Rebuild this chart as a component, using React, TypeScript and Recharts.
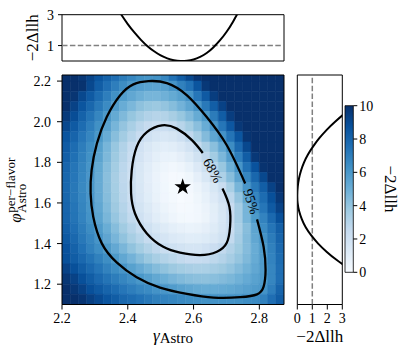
import React from "react";
import {
  ComposedChart,
  Scatter,
  XAxis,
  YAxis,
  ReferenceArea,
  ReferenceLine,
  ReferenceDot,
  Symbols,
} from "recharts";

const FONT = '"Liberation Serif", "DejaVu Serif", serif';
const MINUS = "\u2212";

// cell edges of the 2D likelihood scan (gamma left->right, phi top->bottom)
const gammaEdges = [2.2, 2.225, 2.25, 2.275, 2.3, 2.325, 2.35, 2.375, 2.4, 2.425, 2.45, 2.475, 2.5, 2.525, 2.55, 2.575, 2.6, 2.625, 2.65, 2.675, 2.7, 2.725, 2.75, 2.775, 2.8, 2.825, 2.85, 2.875];
const phiEdges = [2.25, 2.2, 2.15, 2.1, 2.05, 2.0, 1.95, 1.9, 1.85, 1.8, 1.75, 1.7, 1.65, 1.6, 1.55, 1.5, 1.45, 1.4, 1.35, 1.3, 1.25, 1.2, 1.15, 1.1];

// -2 delta llh per cell, one row per phi band (top row first)
const llhGrid = [
  [10, 10, 9.7, 9.2, 8.6, 8.1, 7.6, 7.1, 6.7, 6.3, 6.15, 6.3, 6.7, 7.5, 8.3, 9.1, 9.8, 10, 10, 10, 10, 10, 10, 10, 10, 10, 10],
  [10, 10, 9.9, 9.1, 8.3, 7.6, 7.0, 6.45, 5.95, 5.7, 5.55, 5.5, 5.65, 6.1, 6.9, 7.5, 8.6, 9.7, 10, 10, 10, 10, 10, 10, 10, 10, 10],
  [10, 9.8, 9.1, 8.4, 7.7, 7.0, 6.3, 5.75, 5.3, 4.95, 4.7, 4.7, 4.9, 5.2, 5.6, 6.2, 7.3, 8.4, 9.5, 10, 10, 10, 10, 10, 10, 10, 10],
  [10, 9.3, 8.6, 7.9, 7.2, 6.5, 5.8, 5.1, 4.6, 4.15, 3.9, 3.8, 4.0, 4.35, 4.8, 5.4, 6.1, 7.2, 8.25, 9.3, 10, 10, 10, 10, 10, 10, 10],
  [9.6, 8.9, 8.1, 7.4, 6.7, 5.95, 5.2, 4.5, 3.95, 3.5, 3.15, 3.0, 3.1, 3.45, 3.9, 4.45, 5.15, 5.9, 7.1, 8.3, 9.5, 10, 10, 10, 10, 10, 10],
  [9.1, 8.4, 7.7, 7.0, 6.3, 5.55, 4.7, 4.0, 3.4, 2.85, 2.5, 2.25, 2.25, 2.5, 2.95, 3.55, 4.25, 5.1, 6.05, 7.3, 8.5, 9.7, 10, 10, 10, 10, 10],
  [8.6, 8.0, 7.3, 6.7, 6.0, 5.1, 4.3, 3.6, 2.95, 2.4, 2.0, 1.7, 1.55, 1.7, 2.1, 2.7, 3.45, 4.4, 5.4, 6.2, 7.4, 8.6, 9.8, 10, 10, 10, 10],
  [8.35, 7.7, 7.05, 6.4, 5.6, 4.7, 3.9, 3.15, 2.5, 1.95, 1.5, 1.2, 1.0, 1.1, 1.4, 1.9, 2.55, 3.35, 4.25, 5.25, 6.45, 7.8, 9.1, 10, 10, 10, 10],
  [8.2, 7.55, 6.9, 6.25, 5.45, 4.55, 3.75, 3.0, 2.35, 1.77, 1.3, 0.95, 0.7, 0.66, 0.92, 1.36, 1.96, 2.7, 3.6, 4.6, 5.7, 7.0, 8.3, 9.7, 10, 10, 10],
  [7.95, 7.35, 6.75, 6.1, 5.2, 4.35, 3.55, 2.8, 2.15, 1.57, 1.09, 0.71, 0.44, 0.3, 0.45, 0.82, 1.37, 2.07, 2.9, 3.87, 4.97, 6.1, 7.5, 8.7, 9.9, 10, 10],
  [7.9, 7.3, 6.65, 6.05, 5.12, 4.25, 3.45, 2.73, 2.07, 1.5, 1.0, 0.6, 0.3, 0.12, 0.13, 0.42, 0.91, 1.55, 2.32, 3.24, 4.28, 5.43, 6.7, 7.9, 9.1, 10, 10],
  [7.85, 7.25, 6.6, 6.0, 5.12, 4.27, 3.49, 2.78, 2.13, 1.56, 1.07, 0.65, 0.33, 0.11, 0.02, 0.2, 0.55, 1.0, 1.6, 2.35, 3.4, 4.7, 6.05, 7.2, 8.25, 9.3, 10],
  [7.9, 7.25, 6.65, 6.05, 5.16, 4.33, 3.55, 2.84, 2.2, 1.63, 1.13, 0.71, 0.37, 0.14, 0.02, 0.12, 0.4, 0.8, 1.3, 1.95, 2.8, 4.0, 5.3, 6.7, 7.7, 8.8, 9.7],
  [7.95, 7.35, 6.75, 6.1, 5.3, 4.48, 3.73, 3.03, 2.4, 1.83, 1.33, 0.9, 0.55, 0.29, 0.12, 0.13, 0.3, 0.6, 1.05, 1.65, 2.4, 3.5, 4.7, 6.25, 7.3, 8.4, 9.3],
  [8.0, 7.4, 6.8, 6.2, 5.45, 4.65, 3.92, 3.23, 2.61, 2.04, 1.55, 1.11, 0.75, 0.47, 0.27, 0.2, 0.3, 0.57, 1.0, 1.6, 2.4, 3.5, 4.7, 5.9, 6.8, 7.8, 8.8],
  [8.2, 7.6, 7.05, 6.45, 5.8, 5.05, 4.33, 3.67, 3.06, 2.52, 2.02, 1.6, 1.24, 0.95, 0.75, 0.65, 0.72, 0.92, 1.25, 1.72, 2.35, 3.3, 4.3, 5.4, 6.5, 7.35, 8.2],
  [8.45, 7.85, 7.25, 6.7, 6.1, 5.38, 4.69, 4.06, 3.48, 2.96, 2.48, 2.07, 1.72, 1.43, 1.23, 1.1, 1.13, 1.28, 1.56, 1.96, 2.6, 3.5, 4.4, 5.3, 6.2, 7.1, 8.0],
  [8.7, 8.1, 7.5, 6.9, 6.4, 5.9, 5.25, 4.64, 4.07, 3.56, 3.1, 2.7, 2.35, 2.07, 1.85, 1.72, 1.72, 1.92, 2.23, 2.63, 3.13, 3.71, 4.37, 5.1, 5.9, 6.9, 7.8],
  [8.8, 8.3, 7.85, 7.4, 6.9, 6.4, 5.9, 5.3, 4.8, 4.3, 3.85, 3.45, 3.1, 2.83, 2.6, 2.42, 2.4, 2.52, 2.75, 3.07, 3.5, 3.97, 4.5, 5.15, 5.85, 6.8, 7.7],
  [9.3, 8.8, 8.3, 7.8, 7.35, 6.85, 6.45, 6.1, 5.6, 5.16, 4.75, 4.38, 4.06, 3.78, 3.56, 3.42, 3.3, 3.33, 3.5, 3.73, 4.03, 4.4, 4.83, 5.31, 5.85, 6.7, 7.6],
  [9.75, 9.3, 8.8, 8.3, 7.8, 7.4, 7.05, 6.7, 6.35, 6.0, 5.64, 5.28, 4.97, 4.69, 4.47, 4.3, 4.18, 4.15, 4.25, 4.4, 4.62, 4.88, 5.19, 5.55, 5.94, 6.7, 7.6],
  [10, 9.7, 9.3, 8.8, 8.4, 8.0, 7.7, 7.3, 7.0, 6.7, 6.5, 6.2, 6.05, 5.8, 5.55, 5.36, 5.2, 5.11, 5.11, 5.18, 5.29, 5.44, 5.62, 5.83, 6.2, 7.0, 8.0],
  [10, 10, 9.8, 9.4, 9.0, 8.6, 8.3, 7.9, 7.7, 7.45, 7.2, 6.95, 6.8, 6.7, 6.55, 6.45, 6.35, 6.25, 6.2, 6.2, 6.2, 6.25, 6.4, 6.5, 6.9, 7.6, 8.3],
];

// 95% contour (starts below its label, runs clockwise)
const outerGamma = [2.793, 2.813, 2.819, 2.813, 2.793, 2.742, 2.661, 2.58, 2.498, 2.427, 2.367, 2.321, 2.295, 2.287, 2.29, 2.306, 2.336, 2.377, 2.417, 2.463, 2.519, 2.58, 2.64, 2.701, 2.757];
const outerPhi = [1.519, 1.384, 1.27, 1.188, 1.15, 1.136, 1.134, 1.152, 1.183, 1.234, 1.306, 1.401, 1.532, 1.647, 1.761, 1.892, 2.023, 2.13, 2.184, 2.2, 2.19, 2.13, 2.023, 1.884, 1.696];

// 68% contour
const innerGamma = [2.688, 2.709, 2.711, 2.701, 2.671, 2.62, 2.559, 2.508, 2.458, 2.422, 2.41, 2.412, 2.427, 2.458, 2.504, 2.549, 2.595, 2.628];
const innerPhi = [1.671, 1.581, 1.483, 1.404, 1.36, 1.343, 1.355, 1.384, 1.45, 1.548, 1.647, 1.761, 1.876, 1.949, 1.982, 1.966, 1.909, 1.846];

const bestGamma = 2.567;
const bestPhi = 1.679;

// 1D profile in gamma (top panel)
const gammaScan = [2.37, 2.38, 2.4, 2.42, 2.44, 2.46, 2.48, 2.5, 2.52, 2.54, 2.56, 2.58, 2.6, 2.62, 2.64, 2.66, 2.68, 2.7, 2.72, 2.74, 2.75];
const gammaScanLlh = [3.35, 3.01, 2.39, 1.85, 1.37, 0.96, 0.63, 0.36, 0.17, 0.05, 0.0, 0.02, 0.1, 0.27, 0.52, 0.88, 1.33, 1.88, 2.55, 3.32, 3.7];

// 1D profile in phi (right panel)
const phiScan = [2.06, 2.04, 2.0, 1.96, 1.92, 1.88, 1.84, 1.8, 1.76, 1.72, 1.68, 1.64, 1.6, 1.56, 1.52, 1.48, 1.44, 1.4, 1.36, 1.32, 1.28];
const phiScanLlh = [3.5, 3.15, 2.52, 1.96, 1.48, 1.07, 0.72, 0.45, 0.25, 0.11, 0.03, 0.0, 0.02, 0.12, 0.3, 0.56, 0.93, 1.39, 1.95, 2.61, 3.38];

const gammaTicks = [2.2, 2.4, 2.6, 2.8];
const phiTicks = [1.2, 1.4, 1.6, 1.8, 2.0, 2.2];
const llhTicks = [0, 1, 2, 3];
const cbarTicks = [0, 2, 4, 6, 8, 10];
const cbarRange = [0, 10];

const GAMMA_DOMAIN: [number, number] = [2.2, 2.875];
const PHI_DOMAIN: [number, number] = [1.1, 2.23];

const BLUES = ["#f7fbff", "#deebf7", "#c6dbef", "#9ecae1", "#6baed6", "#4292c6", "#2171b5", "#08519c", "#08306b"];

function hexToRgb(h: string) {
  return [1, 3, 5].map((i) => parseInt(h.slice(i, i + 2), 16));
}

function blues(v: number) {
  const t = (Math.max(0, Math.min(10, v)) / 10) * (BLUES.length - 1);
  const i = Math.min(Math.floor(t), BLUES.length - 2);
  const f = t - i;
  const a = hexToRgb(BLUES[i]);
  const b = hexToRgb(BLUES[i + 1]);
  const c = a.map((x, k) => Math.round(x + (b[k] - x) * f));
  return `rgb(${c[0]},${c[1]},${c[2]})`;
}

const cells = llhGrid.flatMap((row, r) =>
  row.map((v, c) => ({
    x1: gammaEdges[c],
    x2: gammaEdges[c + 1],
    y1: phiEdges[r + 1],
    y2: phiEdges[r],
    fill: blues(v),
  }))
);

const outerPoints = outerGamma.map((x, i) => ({ x, y: outerPhi[i] }));
const innerPoints = innerGamma.map((x, i) => ({ x, y: innerPhi[i] }));
const bestPoint = [{ x: bestGamma, y: bestPhi }];
const gammaProfile = gammaScan.map((x, i) => ({ x, y: gammaScanLlh[i] }));
const phiProfile = phiScan.map((y, i) => ({ x: phiScanLlh[i], y }));
const cbarPoints = cbarRange.map((y) => ({ x: 0.5, y }));

const tickStyle = { fontSize: 14, fill: "#000", fontFamily: FONT };
const tickLine = { stroke: "#000", strokeWidth: 1 };
const noMarker = () => <g />;

const starShape = (p: any) => <Symbols cx={p.cx} cy={p.cy} type="star" size={85} fill="#000" />;

const contourLabel = (text: string, angle: number) => (p: any) => (
  <text
    x={p.cx}
    y={p.cy}
    transform={`rotate(${angle} ${p.cx} ${p.cy})`}
    textAnchor="middle"
    dominantBaseline="central"
    fontSize={14}
    fontFamily={FONT}
    fill="#000"
  >
    {text}
  </text>
);

const llhLabelVertical = (props: any) => {
  const vb = props.viewBox;
  const x = vb.x + 16;
  const y = vb.y + vb.height / 2;
  return (
    <text x={x} y={y} transform={`rotate(-90 ${x} ${y})`} textAnchor="middle" fontSize={17} fontFamily={FONT} fill="#000">
      {`${MINUS}2\u0394llh`}
    </text>
  );
};

const llhLabelBottom = (props: any) => {
  const vb = props.viewBox;
  return (
    <text x={vb.x + vb.width / 2} y={vb.y + 37} textAnchor="middle" fontSize={17} fontFamily={FONT} fill="#000">
      {`${MINUS}2\u0394llh`}
    </text>
  );
};

const cbarLabel = (props: any) => {
  const vb = props.viewBox;
  const x = vb.x + 32;
  const y = vb.y + vb.height / 2;
  return (
    <text x={x} y={y} transform={`rotate(90 ${x} ${y})`} textAnchor="middle" fontSize={17} fontFamily={FONT} fill="#000">
      {`${MINUS}2\u0394llh`}
    </text>
  );
};

const gammaLabel = (props: any) => {
  const vb = props.viewBox;
  return (
    <text x={vb.x + vb.width / 2} y={vb.y + 36} textAnchor="middle" fontFamily={FONT} fill="#000">
      <tspan fontStyle="italic" fontSize={17}>γ</tspan>
      <tspan fontSize={15} dy={2.5}>Astro</tspan>
    </text>
  );
};

const phiLabel = (props: any) => {
  const vb = props.viewBox;
  const cx = vb.x - 7;
  const cy = vb.y + vb.height / 2;
  return (
    <g transform={`translate(${cx} ${cy}) rotate(-90)`} fontFamily={FONT} fill="#000">
      <text x={-33} y={5.5} fontSize={17} fontStyle="italic">φ</text>
      <text x={-23} y={0} fontSize={13}>{`per${MINUS}flavor`}</text>
      <text x={-23} y={10.5} fontSize={13}>Astro</text>
    </g>
  );
};

function TopProfile() {
  return (
    <ComposedChart width={300} height={75} margin={{ top: 14.7, right: 16, bottom: 4, left: 22 }}>
      <XAxis type="number" dataKey="x" domain={GAMMA_DOMAIN} allowDataOverflow ticks={gammaTicks} tick={false} tickSize={5} tickLine={tickLine} axisLine={false} height={10} />
      <YAxis type="number" dataKey="y" domain={[0, 3]} allowDataOverflow ticks={llhTicks} tick={tickStyle} tickSize={4} tickMargin={4} tickLine={tickLine} axisLine={false} width={40} label={llhLabelVertical} />
      <ReferenceLine y={1} stroke="#808080" strokeWidth={1.5} strokeDasharray="5.5 2.4" />
      <Scatter data={gammaProfile} line={{ stroke: "#000", strokeWidth: 2 }} lineJointType="natural" shape={noMarker} isAnimationActive={false} />
      <ReferenceArea x1={GAMMA_DOMAIN[0]} x2={GAMMA_DOMAIN[1]} y1={0} y2={3} fill="none" stroke="#000" strokeWidth={1} />
    </ComposedChart>
  );
}

function MainScan() {
  return (
    <ComposedChart width={300} height={356} margin={{ top: 75, right: 16, bottom: 21.5, left: 22 }}>
      <XAxis type="number" dataKey="x" domain={GAMMA_DOMAIN} allowDataOverflow ticks={gammaTicks} tickFormatter={(v: number) => v.toFixed(1)} tick={tickStyle} tickSize={5} tickMargin={4} tickLine={tickLine} axisLine={false} height={30} label={gammaLabel} />
      <YAxis type="number" dataKey="y" domain={PHI_DOMAIN} allowDataOverflow ticks={phiTicks} tickFormatter={(v: number) => v.toFixed(1)} tick={tickStyle} tickSize={5} tickMargin={6} tickLine={tickLine} axisLine={false} width={40} label={phiLabel} />
      {cells.map((c, i) => (
        <ReferenceArea key={i} x1={c.x1} x2={c.x2} y1={c.y1} y2={c.y2} fill={c.fill} fillOpacity={1} stroke={c.fill} strokeWidth={0.6} ifOverflow="hidden" />
      ))}
      <ReferenceArea x1={GAMMA_DOMAIN[0]} x2={GAMMA_DOMAIN[1]} y1={PHI_DOMAIN[0]} y2={PHI_DOMAIN[1]} fill="none" stroke="#000" strokeWidth={1} />
      <Scatter data={outerPoints} line={{ stroke: "#000", strokeWidth: 2.3 }} lineJointType="natural" shape={noMarker} isAnimationActive={false} />
      <Scatter data={innerPoints} line={{ stroke: "#000", strokeWidth: 2.3 }} lineJointType="natural" shape={noMarker} isAnimationActive={false} />
      <Scatter data={bestPoint} shape={starShape} isAnimationActive={false} />
      <ReferenceDot x={2.658} y={1.76} r={0} shape={contourLabel("68%", 61)} />
      <ReferenceDot x={2.775} y={1.607} r={0} shape={contourLabel("95%", 72)} />
    </ComposedChart>
  );
}

function RightProfile() {
  return (
    <ComposedChart width={60} height={356} margin={{ top: 75, right: 7.7, bottom: 21.5, left: 0 }}>
      <XAxis type="number" dataKey="x" domain={[0, 3]} allowDataOverflow ticks={llhTicks} tick={tickStyle} tickSize={5} tickMargin={4} tickLine={tickLine} axisLine={false} height={30} label={llhLabelBottom} />
      <YAxis type="number" dataKey="y" domain={PHI_DOMAIN} allowDataOverflow ticks={phiTicks} tick={false} tickSize={4} tickLine={tickLine} axisLine={false} width={7.3} />
      <ReferenceLine x={1} stroke="#808080" strokeWidth={1.5} strokeDasharray="5.5 2.4" />
      <Scatter data={phiProfile} line={{ stroke: "#000", strokeWidth: 2 }} lineJointType="natural" shape={noMarker} isAnimationActive={false} />
      <ReferenceArea x1={0} x2={3} y1={PHI_DOMAIN[0]} y2={PHI_DOMAIN[1]} fill="none" stroke="#000" strokeWidth={1} />
    </ComposedChart>
  );
}

function ColorBar() {
  return (
    <ComposedChart width={67} height={356} margin={{ top: 105.7, right: 13.7, bottom: 83.7, left: 5 }}>
      <defs>
        <linearGradient id="cbarBlues" x1="0" y1="1" x2="0" y2="0">
          {BLUES.map((c, i) => (
            <stop key={c} offset={`${(i / (BLUES.length - 1)) * 100}%`} stopColor={c} />
          ))}
        </linearGradient>
      </defs>
      <XAxis type="number" dataKey="x" domain={[0, 1]} allowDataOverflow hide />
      <YAxis type="number" dataKey="y" orientation="right" domain={[0, 10]} allowDataOverflow ticks={cbarTicks} tick={tickStyle} tickSize={4} tickMargin={2} tickLine={tickLine} axisLine={false} width={40} label={cbarLabel} />
      <Scatter data={cbarPoints} shape={noMarker} isAnimationActive={false} />
      <ReferenceArea x1={0} x2={1} y1={0} y2={10} fill="url(#cbarBlues)" fillOpacity={1} stroke="#000" strokeWidth={0.8} />
    </ComposedChart>
  );
}

export default function App() {
  return (
    <div style={{ position: "absolute", left: 0, top: 0, width: 407, height: 356, background: "#fff", fontFamily: FONT }}>
      <div style={{ position: "absolute", left: 0, top: 0 }}>
        <TopProfile />
      </div>
      <div style={{ position: "absolute", left: 0, top: 0 }}>
        <MainScan />
      </div>
      <div style={{ position: "absolute", left: 290, top: 0 }}>
        <RightProfile />
      </div>
      <div style={{ position: "absolute", left: 340, top: 0 }}>
        <ColorBar />
      </div>
    </div>
  );
}
